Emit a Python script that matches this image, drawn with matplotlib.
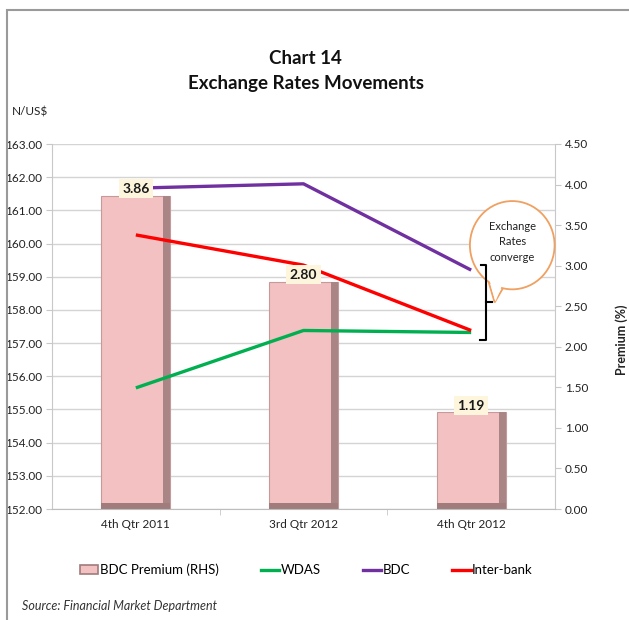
import matplotlib
matplotlib.use("Agg")
import matplotlib.pyplot as plt
import matplotlib.transforms as mtransforms
from matplotlib.patches import Ellipse, Polygon, Rectangle
from matplotlib.lines import Line2D
from matplotlib import font_manager

# ---- data ----
quarters = ["4th Qtr 2011", "3rd Qtr 2012", "4th Qtr 2012"]
bdc_premium = [3.86, 2.80, 1.19]
wdas = [155.65, 157.38, 157.32]
bdc = [161.67, 161.80, 159.20]
interbank = [160.26, 159.35, 157.38]
rate_ticks = [152 + i for i in range(12)]
premium_ticks = [i * 0.5 for i in range(10)]

available = {f.name for f in font_manager.fontManager.ttflist}
family = next((f for f in ["Lato", "Open Sans", "DejaVu Sans"] if f in available),
              "DejaVu Sans")
plt.rcParams["font.family"] = [family, "DejaVu Sans"]

W, H = 629, 620
fig = plt.figure(figsize=(W / 100, H / 100), dpi=100)
fig.patch.set_facecolor("white")

# outer frame
fig.patches.append(Rectangle((7 / W, -0.05), 1.2, 1 - 10 / H + 0.05,
                             transform=fig.transFigure, fill=False,
                             edgecolor="#9a9a9a", lw=1.5))

left, right, top, bottom = 52 / W, 555 / W, 1 - 144 / H, 1 - 509 / H
ax = fig.add_axes([left, bottom, right - left, top - bottom])
ax2 = ax.twinx()
ax.set_zorder(ax2.get_zorder() + 1)
ax.patch.set_visible(False)

x = list(range(len(quarters)))
ax.set_xlim(-0.5, len(quarters) - 0.5)
ax.set_ylim(152, 163)
ax2.set_ylim(0, 4.5)

# grid on rate axis, behind the bars
ax.set_axisbelow(True)
ax.set_yticks(rate_ticks)
ax.set_yticklabels([f"{v:.2f}" for v in rate_ticks])
ax.yaxis.grid(True, color="#d4d4d4", lw=1.0, zorder=0)
ax2.set_yticks(premium_ticks)
ax2.set_yticklabels([f"{v:.2f}" for v in premium_ticks])

# bars drawn in the rate axes but scaled by the premium axis
bar_tr = mtransforms.blended_transform_factory(ax.transData, ax2.transData)
bw = 0.41
side = 0.04
base = 0.08
ax.bar(x, bdc_premium, width=bw, color="#f3c1c1", edgecolor="#c49a9a", lw=0.8,
       transform=bar_tr, zorder=1)
ax.bar([xi + bw / 2 - side / 2 for xi in x], bdc_premium, width=side,
       color="#a98585", transform=bar_tr, zorder=1.1)
ax.bar(x, [base] * len(x), width=bw, color="#a07c7c", transform=bar_tr, zorder=1.2)

# lines
ax.plot(x, wdas, color="#00b050", lw=2.4, solid_capstyle="butt", zorder=3)
ax.plot(x, bdc, color="#7030a0", lw=2.4, solid_capstyle="butt", zorder=3)
ax.plot(x, interbank, color="#ff0000", lw=2.4, solid_capstyle="butt", zorder=3)

# value labels
for xi, v in zip(x, bdc_premium):
    ax.annotate(f"{v:.2f}", xy=(xi, v), xycoords=bar_tr, xytext=(0, 5),
                textcoords="offset points", ha="center", va="center",
                fontsize=10, fontweight="bold", color="#1a1a1a", zorder=5,
                bbox=dict(boxstyle="square,pad=0.25", fc="#fdf6dc", ec="none"))

# axes styling
for a in (ax, ax2):
    a.spines["top"].set_visible(False)
ax.spines["left"].set_color("#c8c8c8")
ax.spines["right"].set_visible(False)
ax2.spines["left"].set_visible(False)
ax2.spines["right"].set_color("#c8c8c8")
ax.spines["bottom"].set_color("#bdbdbd")
ax2.spines["bottom"].set_visible(False)
ax.tick_params(axis="y", length=4, color="#c8c8c8", labelsize=8.5, labelcolor="#222222", pad=3)
ax2.tick_params(axis="y", length=4, color="#c8c8c8", labelsize=8.5, labelcolor="#222222", pad=3)
ax.set_xticks(x)
ax.set_xticklabels(quarters)
ax.tick_params(axis="x", length=0, labelsize=8.5, labelcolor="#222222", pad=7)
ax.set_xticks([xi + 0.5 for xi in x[:-1]], minor=True)
ax.tick_params(axis="x", which="minor", length=4, color="#c8c8c8")

# convergence bracket at the last quarter
last = x[-1]
lo = min(wdas[-1], interbank[-1]) - 0.22
hi = bdc[-1] + 0.15
bx = last + 0.09
mid = (lo + hi) / 2

# speech-bubble callout
cx, cy = last + 0.245, 159.95
tail = Polygon([(cx - 0.15, cy - 0.95), (last + 0.14, mid), (cx - 0.05, cy - 1.25)],
               closed=True, fc="white", ec="#f0a060", lw=1.3, zorder=5, clip_on=False)
ax.add_patch(tail)
bubble = Ellipse((cx, cy), 0.505, 2.66, fc="white", ec="#f0a060", lw=1.3, zorder=6,
                 clip_on=False)
ax.add_patch(bubble)
ax.add_patch(Polygon([(cx - 0.14, cy - 0.98), (last + 0.145, mid + 0.03), (cx - 0.06, cy - 1.2)],
                     closed=True, fc="white", ec="none", zorder=6.5, clip_on=False))
ax.text(cx, cy + 0.1, "Exchange\nRates\nconverge", ha="center", va="center",
        fontsize=8, color="#222222", linespacing=1.5, zorder=7)

ax.plot([bx - 0.03, bx, bx, bx - 0.04], [hi, hi, lo, lo], color="black", lw=1.5,
        zorder=8, clip_on=False)
ax.plot([bx, bx + 0.035], [mid, mid], color="black", lw=1.5, zorder=8)

# titles and axis captions
fig.text(0.486, 1 - 58 / H, "Chart 14", ha="center", va="center",
         fontsize=13.5, fontweight="bold", color="#111111")
fig.text(0.486, 1 - 83 / H, "Exchange Rates Movements", ha="center", va="center",
         fontsize=13.5, fontweight="bold", color="#111111")
fig.text(12 / W, 1 - 112 / H, "N/US$", ha="left", va="center", fontsize=8.5,
         color="#222222")
fig.text(622 / W, 1 - 340 / H, "Premium (%)", ha="center", va="center",
         rotation=90, fontsize=9, fontweight="bold", color="#222222")
fig.text(22 / W, 1 - 606 / H, "Source: Financial Market Department", ha="left",
         va="center", fontsize=9, style="italic", color="#333333")

# legend
handles = [
    Rectangle((0, 0), 1, 1, fc="#f3c1c1", ec="#a07c7c", lw=1.2),
    Line2D([], [], color="#00b050", lw=2.4),
    Line2D([], [], color="#7030a0", lw=2.4),
    Line2D([], [], color="#ff0000", lw=2.4),
]
labels = ["BDC Premium (RHS)", "WDAS", "BDC", "Inter-bank"]
fig.legend(handles, labels, loc="center", bbox_to_anchor=(0.487, 1 - 570 / H),
           ncol=4, frameon=False, fontsize=9.5, handlelength=1.4, handletextpad=0.1,
           columnspacing=3.2, handleheight=0.6)

fig.savefig("out.png", dpi=100, facecolor="white")
